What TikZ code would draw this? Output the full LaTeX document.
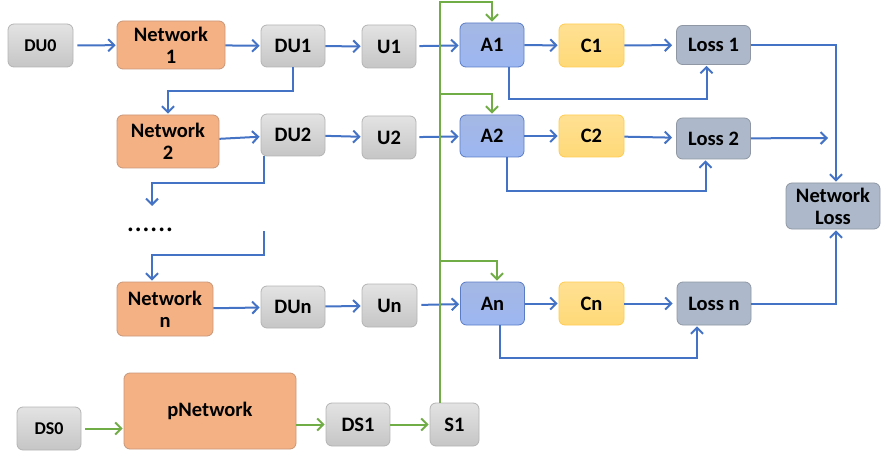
\documentclass[tikz,border=0pt]{standalone}
\usepackage{fontspec}
\setmainfont{Carlito}
\usetikzlibrary{positioning,arrows.meta}
\definecolor{lineblue}{HTML}{4472C4}
\definecolor{linegreen}{HTML}{70AD47}
\definecolor{grayline}{HTML}{B4B4B4}
\definecolor{orangefill}{HTML}{F4B183}
\definecolor{orangeline}{HTML}{C8977A}
\definecolor{afill}{HTML}{8EA6DC}
\definecolor{aline}{HTML}{5A7CC6}
\definecolor{cfill}{HTML}{FFD978}
\definecolor{cline}{HTML}{FFCB52}
\definecolor{lossfill}{HTML}{ADB9CA}
\definecolor{lossline}{HTML}{8E97A3}
\begin{document}
\begin{tikzpicture}[x=1pt,y=-1pt,
    every node/.append style={font=\bfseries\fontsize{20.5}{22}\selectfont,
                              align=center, inner sep=0pt},
    gbox/.style={draw=grayline, line width=.8pt, rounded corners=6pt,
                 top color=gray!22, bottom color=gray!45},
    netbox/.style={draw=orangeline, line width=.8pt, rounded corners=6pt, fill=orangefill},
    abox/.style={draw=aline, line width=.8pt, rounded corners=6pt,
                 top color=afill!80, bottom color=afill!110!black},
    cbox/.style={draw=cline, line width=.8pt, rounded corners=6pt,
                 top color=cfill!80, bottom color=cfill},
    lossbox/.style={draw=lossline, line width=.8pt, rounded corners=6pt, fill=lossfill},
    flow/.style={draw=lineblue, line width=2pt,
                 -{Straight Barb[length=6pt,width=12pt]}, shorten >=1pt},
    gflow/.style={draw=linegreen, line width=2pt,
                  -{Straight Barb[length=6pt,width=12pt]}, shorten >=1pt}]
    \useasboundingbox (0,0) rectangle (882,454);

    % row 1
    \node[gbox, minimum width=65pt, minimum height=43pt, font=\bfseries\fontsize{18}{20}\selectfont]
         (du0) at (40.5,45.5) {DU0};
    \node[netbox, minimum width=108pt, minimum height=48pt] (net1) at (171,45) {Network\\1};
    \node[gbox, minimum width=64pt, minimum height=42pt] (du1) at (293,46) {DU1};
    \node[gbox, minimum width=54pt, minimum height=43pt] (u1) at (389,46.5) {U1};
    \node[abox, minimum width=64pt, minimum height=44pt] (a1) at (492,45) {A1};
    \node[cbox, minimum width=65pt, minimum height=43pt] (c1) at (591.5,45.5) {C1};
    \node[lossbox, minimum width=74pt, minimum height=39pt] (loss1) at (713.5,45) {Loss 1};

    % row 2
    \node[netbox, minimum width=102pt, minimum height=53pt] (net2) at (168,141.5) {Network\\2};
    \node[gbox, minimum width=64pt, minimum height=42pt] (du2) at (293,135) {DU2};
    \node[gbox, minimum width=54pt, minimum height=43pt] (u2) at (389,137.5) {U2};
    \node[abox, minimum width=64pt, minimum height=42pt] (a2) at (492,136) {A2};
    \node[cbox, minimum width=65pt, minimum height=42pt] (c2) at (591.5,136) {C2};
    \node[lossbox, minimum width=74pt, minimum height=41pt] (loss2) at (713.5,138.5) {Loss 2};
    \node[lossbox, minimum width=94pt, minimum height=46pt] (netloss) at (833,206) {Network\\Loss};

    \node[font=\mdseries\fontsize{31}{31}\selectfont] (dots) at (150,230) {......};

    % row n
    \node[netbox, minimum width=96pt, minimum height=54pt] (netn) at (165,309) {Network\\n};
    \node[gbox, minimum width=64pt, minimum height=42pt] (dun) at (293,307) {DUn};
    \node[gbox, minimum width=55pt, minimum height=43pt] (un) at (389.5,305.5) {Un};
    \node[abox, minimum width=64pt, minimum height=43pt] (an) at (492.5,303.5) {An};
    \node[cbox, minimum width=65pt, minimum height=43pt] (cn) at (591.5,303.5) {Cn};
    \node[lossbox, minimum width=74pt, minimum height=43pt] (lossn) at (714,303.5) {Loss n};

    % supervision row
    \node[gbox, minimum width=64pt, minimum height=43pt, font=\bfseries\fontsize{18}{20}\selectfont]
         (ds0) at (49,428.5) {DS0};
    \node[netbox, minimum width=172pt, minimum height=76pt] (pnet) at (210,411) {pNetwork};
    \node[gbox, minimum width=64pt, minimum height=43pt] (ds1) at (358,424.5) {DS1};
    \node[gbox, minimum width=49pt, minimum height=43pt] (s1) at (454.5,424.5) {S1};

    \coordinate (l2end) at (829,138);
    \coordinate (dotsend) at (152,207);
    \coordinate (dotsstart) at (264,231);
    \coordinate (sp2) at (440,94);
    \coordinate (spn) at (440,261);

    % blue flow
    \draw[flow, shorten <=4pt] (du0) -- (net1);
    \draw[flow] (net1) -- (du1);
    \draw[flow] (du1) -- (u1);
    \draw[flow, shorten <=3pt] (u1) -- (a1);
    \draw[flow] (a1) -- (c1);
    \draw[flow, shorten >=4pt] (c1) -- (loss1);
    \draw[flow] ([xshift=17pt]a1.south) |- (600,99) -| ([xshift=-7pt]loss1.south);
    \draw[flow] (loss1) -| ([xshift=3pt]netloss.north);
    \draw[flow] (du1) |- (230,91) -| (net2);

    \draw[flow] (net2) -- (du2);
    \draw[flow] (du2) -- (u2);
    \draw[flow, shorten <=3pt] (u2) -- (a2);
    \draw[flow] (a2) -- (c2);
    \draw[flow, shorten >=4pt] (c2) -- (loss2);
    \draw[flow] ([xshift=15pt]a2.south) |- (600,191) -| ([xshift=-8pt]loss2.south);
    \draw[flow] (loss2) -- (l2end);
    \draw[flow] ([xshift=-29pt]du2.south) |- (200,183) -| (dotsend);
    \draw[flow] (dotsstart) |- (200,255) -| ([xshift=-13pt]netn.north);

    \draw[flow] (netn) -- (dun);
    \draw[flow] (dun) -- (un);
    \draw[flow, shorten <=4pt] (un) -- (an);
    \draw[flow] (an) -- (cn);
    \draw[flow, shorten >=4pt] (cn) -- (lossn);
    \draw[flow] ([xshift=7.5pt]an.south) |- (600,358) -| ([xshift=-17pt]lossn.south);
    \draw[flow] (lossn) -| ([xshift=3pt]netloss.south);

    % green flow
    \draw[gflow, shorten <=4pt] (ds0) -- (ds0 -| pnet.west);
    \draw[gflow] (pnet.east |- ds1) -- (ds1);
    \draw[gflow] (ds1) -- (s1);
    \draw[gflow] ([xshift=-14.5pt]s1.north) |- (470,2) -| (a1.north);
    \draw[gflow] (sp2) -| (a2.north);
    \draw[gflow] (spn) -| ([xshift=4.5pt]an.north);
\end{tikzpicture}
\end{document}
